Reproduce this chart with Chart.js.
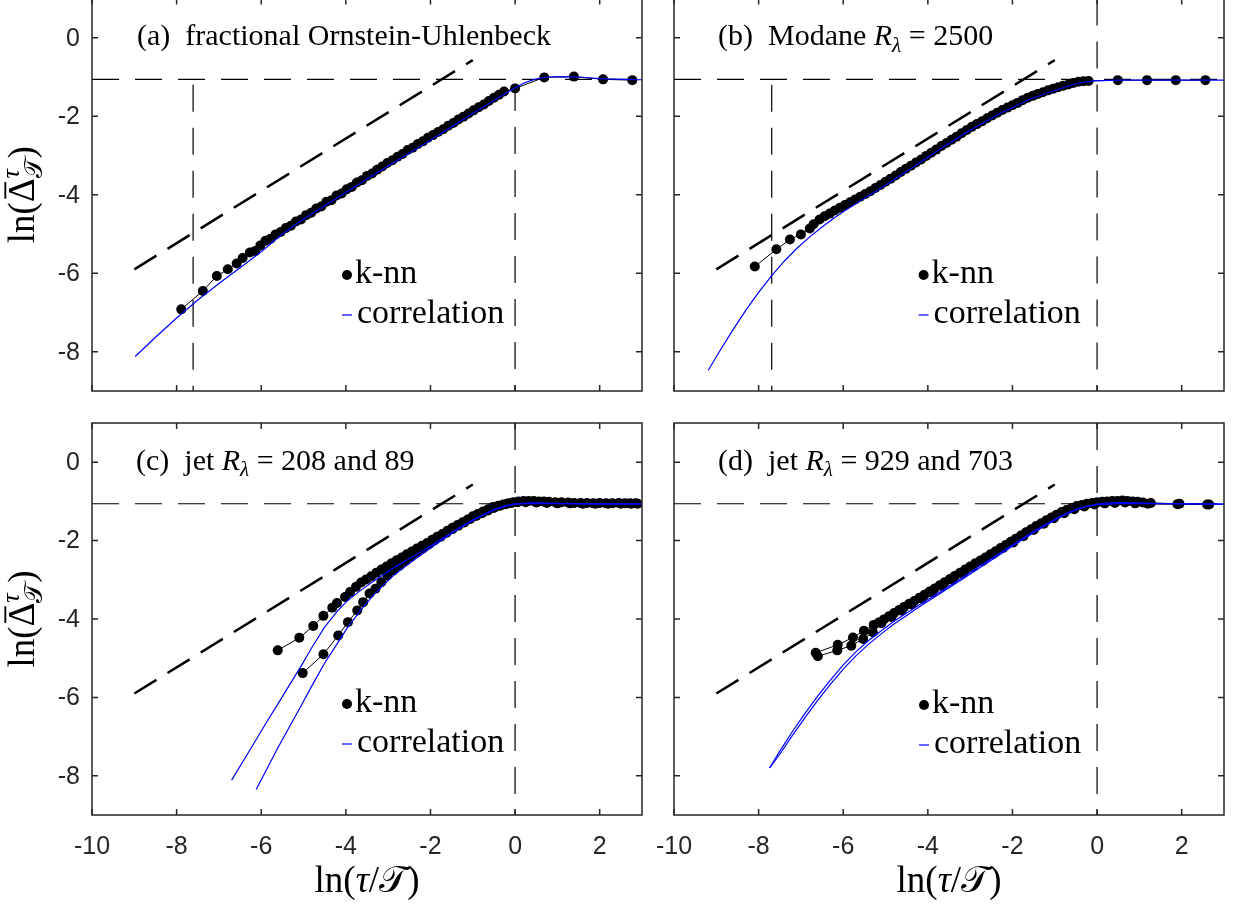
<!DOCTYPE html>
<html>
<head>
<meta charset="utf-8">
<title>k-nn vs correlation estimates</title>
<script src="https://cdn.jsdelivr.net/npm/chart.js@4.4.1/dist/chart.umd.min.js"></script>
<style>
  html, body { margin: 0; padding: 0; background: #fff; }
  #fig { position: relative; width: 1238px; height: 904px; overflow: hidden; background: #fff; }
  #fig canvas { position: absolute; left: 0; top: -20px; }
</style>
</head>
<body>
<div id="fig">
  <canvas id="pa" width="1238" height="924"></canvas>
  <canvas id="pb" width="1238" height="924"></canvas>
  <canvas id="pc" width="1238" height="924"></canvas>
  <canvas id="pd" width="1238" height="924"></canvas>
</div>
<script>
// axes
const X_TICKS = [-10, -8, -6, -4, -2, 0, 2];
const Y_TICKS = [-8, -6, -4, -2, 0];
const X_RANGE = [-10, 3];
const Y_RANGE = [-9, 1];
const LEGEND_LABELS = ['k-nn', 'correlation'];

// reference lines shared by all panels
const slopeLine = [[-9, -5.9], [-1, -0.57]];
const plateau = [[-10, -1.06], [3, -1.06]];
const zeroLine = [[0, 1], [0, -9]];

// (a) fractional Ornstein-Uhlenbeck
const aKnn = [[-7.89,-6.92],[-7.38,-6.45],[-7.05,-6.07],[-6.79,-5.90],[-6.58,-5.75],[-6.44,-5.61],[-6.27,-5.47],[-6.14,-5.43],
  [-6.02,-5.29],[-5.90,-5.17],[-5.78,-5.12],[-5.66,-5.01],[-5.54,-4.95],[-5.42,-4.85],[-5.30,-4.79],[-5.18,-4.68],[-5.06,-4.63],[-4.94,-4.52],
  [-4.82,-4.46],[-4.70,-4.35],[-4.58,-4.30],[-4.46,-4.18],[-4.34,-4.14],[-4.22,-4.02],[-4.10,-3.97],[-3.98,-3.86],[-3.86,-3.80],[-3.74,-3.69],
  [-3.62,-3.63],[-3.50,-3.52],[-3.38,-3.46],[-3.26,-3.36],[-3.14,-3.28],[-3.02,-3.19],[-2.90,-3.12],[-2.78,-3.03],[-2.66,-2.96],[-2.54,-2.86],
  [-2.42,-2.80],[-2.30,-2.71],[-2.18,-2.64],[-2.06,-2.55],[-1.94,-2.48],[-1.82,-2.40],[-1.70,-2.33],[-1.58,-2.24],[-1.46,-2.17],[-1.34,-2.08],
  [-1.22,-2.01],[-1.10,-1.93],[-0.98,-1.85],[-0.86,-1.77],[-0.74,-1.70],[-0.62,-1.61],[-0.50,-1.53],[-0.38,-1.45],[-0.26,-1.37],
  [0,-1.29],[0.69,-1.01],[1.39,-0.99],[2.08,-1.06],[2.77,-1.08]];
const aCorr = [[-8.98,-8.12],[-8.5,-7.63],[-8.0,-7.14],[-7.5,-6.68],[-7.0,-6.26],[-6.5,-5.86],[-6.0,-5.45],[-5.5,-5.0],[-5.0,-4.62],
  [-4.5,-4.28],[-4.0,-3.94],[-3.5,-3.6],[-3.0,-3.27],[-2.5,-2.94],[-2.0,-2.61],[-1.5,-2.27],[-1.0,-1.93],[-0.5,-1.6],[-0.2,-1.4],
  [0,-1.28],[0.2,-1.16],[0.4,-1.08],[0.6,-1.03],[0.8,-1.0],[1.1,-0.99],[1.5,-1.0],[2.0,-1.04],[2.5,-1.06],[3.0,-1.07]];
const aGuides = [[[-7.61,-1.2],[-7.61,-9]], [[0,-1.18],[0,-9]]];

// (b) Modane R_lambda = 2500
const bKnn = [[-8.09,-5.83],[-7.58,-5.39],[-7.26,-5.14],[-7.00,-5.01],[-6.79,-4.86],[-6.70,-4.75],
  [-6.56,-4.63],[-6.44,-4.55],[-6.32,-4.48],[-6.20,-4.40],[-6.08,-4.33],[-5.96,-4.26],[-5.84,-4.19],[-5.72,-4.12],[-5.60,-4.05],[-5.48,-3.98],
  [-5.36,-3.91],[-5.24,-3.83],[-5.12,-3.75],[-5.00,-3.67],[-4.88,-3.59],[-4.76,-3.51],[-4.64,-3.42],[-4.52,-3.34],[-4.40,-3.26],[-4.28,-3.18],
  [-4.16,-3.10],[-4.04,-3.01],[-3.92,-2.93],[-3.80,-2.85],[-3.68,-2.76],[-3.56,-2.68],[-3.44,-2.60],[-3.32,-2.52],[-3.20,-2.43],[-3.08,-2.35],
  [-2.96,-2.27],[-2.84,-2.20],[-2.72,-2.13],[-2.60,-2.05],[-2.48,-1.98],[-2.36,-1.91],[-2.24,-1.84],[-2.12,-1.78],[-2.00,-1.72],[-1.88,-1.66],
  [-1.76,-1.59],[-1.64,-1.53],[-1.52,-1.48],[-1.40,-1.43],[-1.28,-1.39],[-1.16,-1.34],[-1.04,-1.30],[-0.92,-1.26],[-0.80,-1.22],[-0.68,-1.19],
  [-0.56,-1.15],[-0.44,-1.12],[-0.32,-1.11],[-0.20,-1.10],
  [0.49,-1.08],[1.18,-1.08],[1.86,-1.08],[2.56,-1.08]];
const bCorr = [[-9.19,-8.47],[-8.9,-7.95],[-8.6,-7.43],[-8.3,-6.94],[-8.0,-6.49],[-7.69,-6.06],[-7.4,-5.70],[-7.1,-5.37],[-6.8,-5.08],
  [-6.5,-4.82],[-6.2,-4.58],[-5.9,-4.36],[-5.6,-4.16],[-5.3,-3.96],[-4.8,-3.62],[-4.37,-3.31],[-3.7,-2.83],[-3.02,-2.37],[-2.33,-1.95],
  [-1.58,-1.56],[-1.02,-1.35],[-0.47,-1.16],[-0.09,-1.10],[0.5,-1.08],[1.5,-1.08],[3.0,-1.08]];
const bGuides = [[[-7.69,-1.2],[-7.69,-9]], zeroLine];

// (c) jet R_lambda = 208 and 89
const cKnn208 = [[-5.61,-4.80],[-5.10,-4.48],[-4.77,-4.18],[-4.53,-3.92],[-4.32,-3.71],[-4.21,-3.59],[-4.02,-3.44],[-3.90,-3.31],[-3.76,-3.18],
  [-3.64,-3.07],[-3.52,-2.99],[-3.40,-2.91],[-3.28,-2.82],[-3.16,-2.74],[-3.04,-2.66],[-2.92,-2.58],[-2.80,-2.50],[-2.68,-2.43],[-2.56,-2.35],
  [-2.44,-2.28],[-2.32,-2.20],[-2.20,-2.13],[-2.08,-2.06],[-1.96,-1.98],[-1.84,-1.90],[-1.72,-1.83],[-1.60,-1.75],[-1.48,-1.67],[-1.36,-1.60],
  [-1.24,-1.53],[-1.12,-1.46],[-1.00,-1.38],[-0.88,-1.32],[-0.76,-1.26],[-0.64,-1.20],[-0.52,-1.14],[-0.40,-1.11],[-0.28,-1.08],[-0.16,-1.05],
  [-0.04,-1.02],[0.08,-1.00],[0.20,-0.99],[0.32,-0.99],[0.44,-0.99],[0.56,-1.00],[0.68,-1.00],[0.80,-1.01],[0.95,-1.02],[1.10,-1.02],
  [1.25,-1.03],[1.40,-1.04],[1.55,-1.04],[1.70,-1.04],[1.85,-1.05],[2.00,-1.04],[2.15,-1.05],[2.30,-1.05],[2.45,-1.04],[2.60,-1.05],
  [2.72,-1.05],[2.85,-1.05]];
const cKnn89 = [[-5.02,-5.38],[-4.53,-4.90],[-4.18,-4.42],[-3.95,-4.08],[-3.73,-3.78],[-3.59,-3.57],[-3.44,-3.35],[-3.30,-3.23],[-3.16,-3.06],
  [-3.02,-2.89],[-2.88,-2.76],[-2.74,-2.64],[-2.60,-2.52],[-2.46,-2.41],[-2.32,-2.30],[-2.18,-2.20],[-2.04,-2.10],[-1.90,-1.99],[-1.76,-1.90],
  [-1.62,-1.80],[-1.48,-1.71],[-1.34,-1.62],[-1.20,-1.54],[-1.06,-1.45],[-0.92,-1.37],[-0.78,-1.30],[-0.64,-1.23],[-0.50,-1.17],[-0.36,-1.11],
  [-0.22,-1.07],[-0.08,-1.04],[0.06,-1.02],[0.25,-1.02],[0.50,-1.03],[0.75,-1.04],[1.00,-1.05],[1.30,-1.05],[1.60,-1.06],[1.90,-1.06],
  [2.20,-1.06],[2.50,-1.06],[2.75,-1.06],[2.90,-1.06]];
const cCorr208 = [[-6.70,-8.11],[-6.3,-7.40],[-5.9,-6.68],[-5.5,-5.98],[-5.07,-5.22],[-4.8,-4.72],[-4.51,-4.22],[-4.2,-3.8],[-3.95,-3.52],
  [-3.65,-3.27],[-3.39,-3.07],[-3.1,-2.86],[-2.83,-2.67],[-2.4,-2.40],[-1.99,-2.13],[-1.43,-1.75],[-0.96,-1.45],[-0.49,-1.20],[-0.2,-1.10],
  [0,-1.06],[0.4,-1.04],[1.0,-1.05],[2.0,-1.06],[3.0,-1.06]];
const cCorr89 = [[-6.12,-8.35],[-5.6,-7.27],[-5.07,-6.24],[-4.8,-5.70],[-4.51,-5.14],[-4.2,-4.62],[-3.95,-4.20],[-3.65,-3.78],[-3.39,-3.44],
  [-3.1,-3.12],[-2.83,-2.85],[-2.4,-2.50],[-1.99,-2.18],[-1.43,-1.77],[-0.96,-1.47],[-0.49,-1.21],[-0.2,-1.11],[0,-1.07],[0.4,-1.05],
  [1.0,-1.06],[2.0,-1.07],[3.0,-1.07]];

// (d) jet R_lambda = 929 and 703
const dKnn929 = [[-6.65,-4.86],[-6.13,-4.66],[-5.77,-4.47],[-5.51,-4.30],[-5.28,-4.15],
  [-5.16,-4.09],[-5.04,-4.01],[-4.92,-3.93],[-4.80,-3.85],[-4.68,-3.77],[-4.56,-3.69],[-4.44,-3.61],[-4.32,-3.54],[-4.20,-3.46],[-4.08,-3.38],
  [-3.96,-3.30],[-3.84,-3.22],[-3.72,-3.14],[-3.60,-3.06],[-3.48,-2.98],[-3.36,-2.90],[-3.24,-2.82],[-3.12,-2.74],[-3.00,-2.66],[-2.88,-2.58],
  [-2.76,-2.51],[-2.64,-2.43],[-2.52,-2.35],[-2.40,-2.27],[-2.28,-2.19],[-2.16,-2.11],[-2.04,-2.03],[-1.92,-1.95],[-1.80,-1.87],[-1.68,-1.79],
  [-1.56,-1.71],[-1.44,-1.63],[-1.32,-1.56],[-1.20,-1.48],[-1.08,-1.41],[-0.96,-1.34],[-0.84,-1.27],[-0.72,-1.22],[-0.60,-1.17],[-0.48,-1.12],
  [-0.36,-1.09],[-0.24,-1.06],[-0.12,-1.04],[0.00,-1.02],[0.12,-1.01],[0.24,-1.00],[0.36,-0.99],[0.48,-0.99],[0.60,-0.98],[0.72,-0.99],
  [0.84,-1.00],[0.96,-1.01],[1.08,-1.03],[1.27,-1.04],[1.95,-1.06],[2.65,-1.08]];
const dKnn703 = [[-6.60,-4.95],[-6.14,-4.80],[-5.81,-4.68],[-5.53,-4.51],[-5.30,-4.34],
  [-5.10,-4.11],[-4.86,-3.95],[-4.62,-3.79],[-4.38,-3.63],[-4.14,-3.48],[-3.90,-3.32],[-3.66,-3.16],[-3.42,-3.00],[-3.18,-2.84],[-2.94,-2.67],
  [-2.70,-2.51],[-2.46,-2.35],[-2.22,-2.19],[-1.98,-2.05],[-1.74,-1.89],[-1.50,-1.73],[-1.26,-1.57],[-1.02,-1.43],[-0.78,-1.30],[-0.54,-1.20],
  [-0.30,-1.13],[-0.06,-1.08],[0.18,-1.05],[0.42,-1.04],[0.66,-1.03],[0.90,-1.05],[1.20,-1.06],[1.90,-1.07],[2.60,-1.08]];
const dCorr929 = [[-7.74,-7.80],[-7.5,-7.37],[-7.2,-6.87],[-6.9,-6.40],[-6.6,-5.96],[-6.3,-5.55],[-6.0,-5.17],[-5.7,-4.84],[-5.4,-4.55],
  [-5.1,-4.30],[-4.8,-4.06],[-4.5,-3.85],[-4.19,-3.63],[-3.7,-3.30],[-3.26,-3.00],[-2.8,-2.67],[-2.33,-2.34],[-1.87,-2.02],[-1.40,-1.70],
  [-0.84,-1.36],[-0.5,-1.20],[-0.28,-1.13],[0,-1.07],[0.3,-1.04],[0.65,-1.03],[1.3,-1.05],[2.0,-1.06],[3.0,-1.07]];
const dCorr703 = [[-7.74,-7.80],[-7.5,-7.45],[-7.2,-6.97],[-6.9,-6.51],[-6.6,-6.07],[-6.3,-5.66],[-6.0,-5.28],[-5.7,-4.94],[-5.4,-4.64],
  [-5.1,-4.38],[-4.8,-4.13],[-4.5,-3.91],[-4.19,-3.68],[-3.7,-3.34],[-3.26,-3.04],[-2.8,-2.71],[-2.33,-2.38],[-1.87,-2.05],[-1.40,-1.73],
  [-0.84,-1.38],[-0.5,-1.22],[-0.28,-1.14],[0,-1.08],[0.65,-1.05],[1.3,-1.06],[3.0,-1.07]];

// panel titles
const aTitle = [{t: '(a)  fractional Ornstein-Uhlenbeck'}];
const bTitle = [{t: '(b)  Modane '}, {t: 'R', i: 1}, {t: 'λ', i: 1, sub: 1}, {t: ' = 2500'}];
const cTitle = [{t: '(c)  jet '}, {t: 'R', i: 1}, {t: 'λ', i: 1, sub: 1}, {t: ' = 208 and 89'}];
const dTitle = [{t: '(d)  jet '}, {t: 'R', i: 1}, {t: 'λ', i: 1, sub: 1}, {t: ' = 929 and 703'}];
const xTitle = [{t: 'ln('}, {t: 'τ', i: 1}, {t: '/'}, {t: '𝒯'}, {t: ')'}];
const yTitle = [{t: 'ln('}, {t: 'Δ', bar: 1}, {t: 'τ', i: 1, sup: 1, stack: 1}, {t: '𝒯', sub: 1}, {t: ')'}];

const SERIF = '"Liberation Serif", "Times New Roman", serif';
const SANS = '"Liberation Sans", Arial, sans-serif';
const INK = '#262626';
const BLUE = '#0000ff';
const OFFSET = 20; // canvases are shifted up so the top frame can sit just above the page

// draws a run of text pieces (italic, sub/superscript), returns its width
function drawRich(ctx, x, y, parts, size, dry) {
  let cx = x;
  parts.forEach(p => {
    const s = (p.sub || p.sup) ? size * 0.7 : size;
    ctx.font = (p.i ? 'italic ' : '') + s + 'px ' + SERIF;
    const dy = p.sub ? size * 0.22 : p.sup ? -size * 0.4 : 0;
    const w = ctx.measureText(p.t).width;
    if (!dry) {
      ctx.fillText(p.t, cx, y + dy);
      if (p.bar) ctx.fillRect(cx + w * 0.15, y - size * 0.8, w * 0.7, size * 0.05);
    }
    if (!p.stack) cx += w;
  });
  return cx - x;
}

const deco = {
  id: 'deco',
  afterDraw(chart, args, o) {
    const ctx = chart.ctx, a = chart.chartArea;
    const sx = chart.scales.x, sy = chart.scales.y;
    ctx.save();
    // box and inward ticks
    ctx.strokeStyle = INK;
    ctx.lineWidth = 1.5;
    ctx.strokeRect(a.left, a.top, a.right - a.left, a.bottom - a.top);
    ctx.beginPath();
    X_TICKS.forEach(v => {
      const p = sx.getPixelForValue(v);
      ctx.moveTo(p, a.bottom); ctx.lineTo(p, a.bottom - 6);
      ctx.moveTo(p, a.top); ctx.lineTo(p, a.top + 6);
    });
    Y_TICKS.forEach(v => {
      const p = sy.getPixelForValue(v);
      ctx.moveTo(a.left, p); ctx.lineTo(a.left + 6, p);
      ctx.moveTo(a.right, p); ctx.lineTo(a.right - 6, p);
    });
    ctx.stroke();

    // tick labels
    ctx.fillStyle = INK;
    ctx.font = '25px ' + SANS;
    ctx.textBaseline = 'middle';
    if (o.xLabels) {
      ctx.textAlign = 'center';
      X_TICKS.forEach(v => ctx.fillText(String(v), sx.getPixelForValue(v), a.bottom + 32));
    }
    if (o.yLabels) {
      ctx.textAlign = 'right';
      Y_TICKS.forEach(v => ctx.fillText(String(v), a.left - 12, sy.getPixelForValue(v) + 1));
    }

    ctx.fillStyle = '#000';
    ctx.textBaseline = 'alphabetic';
    ctx.textAlign = 'left';
    // panel title
    drawRich(ctx, a.left + o.titleDx, sy.getPixelForValue(0) + 7.5, o.title, 30);

    // legend
    const lx = a.left + o.legend[0], ly = a.top + o.legend[1];
    ctx.beginPath();
    ctx.arc(lx, ly, 5, 0, Math.PI * 2);
    ctx.fill();
    ctx.font = '34px ' + SERIF;
    ctx.fillText(LEGEND_LABELS[0], lx + 8, ly + 8);
    ctx.strokeStyle = BLUE;
    ctx.lineWidth = 1.2;
    ctx.beginPath();
    ctx.moveTo(lx - 5, ly + 40); ctx.lineTo(lx + 5, ly + 40);
    ctx.stroke();
    ctx.fillText(LEGEND_LABELS[1], lx + 10, ly + 48);

    // axis titles
    if (o.xLabels) {
      const w = drawRich(ctx, 0, 0, xTitle, 37, true);
      drawRich(ctx, (a.left + a.right) / 2 - w / 2, a.bottom + 77, xTitle, 37);
    }
    if (o.yLabels) {
      const w = drawRich(ctx, 0, 0, yTitle, 37, true);
      ctx.translate(34, (a.top + a.bottom) / 2);
      ctx.rotate(-Math.PI / 2);
      drawRich(ctx, -w / 2, 0, yTitle, 37);
    }
    ctx.restore();
  }
};

function xy(arr) { return arr.map(p => ({x: p[0], y: p[1]})); }

const COLS = [[92, 642], [674, 1224]];
const ROWS = [[-1.5, 391], [423, 815]];

const panels = [
  {id: 'pa', col: 0, row: 0, knn: [aKnn], corr: [aCorr], guides: aGuides, title: aTitle, titleDx: 45, legend: [255, 276.5]},
  {id: 'pb', col: 1, row: 0, knn: [bKnn], corr: [bCorr], guides: bGuides, title: bTitle, titleDx: 44, legend: [249.6, 276.5]},
  {id: 'pc', col: 0, row: 1, knn: [cKnn208, cKnn89], corr: [cCorr208, cCorr89], guides: [zeroLine], title: cTitle, titleDx: 44, legend: [255, 281]},
  {id: 'pd', col: 1, row: 1, knn: [dKnn929, dKnn703], corr: [dCorr929, dCorr703], guides: [zeroLine], title: dTitle, titleDx: 44, legend: [250, 282]}
];

panels.forEach(pn => {
  const [l, r] = COLS[pn.col];
  const [t, b] = ROWS[pn.row];
  const isLeft = pn.col === 0, isBottom = pn.row === 1;
  const datasets = [];
  pn.corr.forEach(c => datasets.push({data: xy(c), showLine: true, borderColor: BLUE, borderWidth: 1.2, pointRadius: 0, order: 0}));
  pn.knn.forEach(k => datasets.push({data: xy(k), showLine: true, borderColor: '#000', borderWidth: 1,
    pointRadius: 5, pointBackgroundColor: '#000', pointBorderWidth: 0, order: 1}));
  pn.guides.concat([plateau]).forEach(g => datasets.push({data: xy(g), showLine: true, borderColor: '#000',
    borderWidth: 1.2, borderDash: [27, 16], pointRadius: 0, order: 2}));
  datasets.push({data: xy(slopeLine), showLine: true, borderColor: '#000', borderWidth: 2.5, borderDash: [26, 13], pointRadius: 0, order: 2});

  new Chart(document.getElementById(pn.id), {
    type: 'scatter',
    data: {datasets},
    options: {
      responsive: false,
      animation: false,
      devicePixelRatio: 1,
      events: [],
      layout: {padding: {left: l, right: 1238 - r, top: t + OFFSET, bottom: 924 - (b + OFFSET)}},
      scales: {
        x: {
          type: 'linear', min: X_RANGE[0], max: X_RANGE[1],
          afterBuildTicks: s => { s.ticks = X_TICKS.map(v => ({value: v})); },
          afterFit: s => { s.height = 0; },
          grid: {display: false, drawTicks: false},
          border: {display: false},
          ticks: {display: false}
        },
        y: {
          type: 'linear', min: Y_RANGE[0], max: Y_RANGE[1],
          afterBuildTicks: s => { s.ticks = Y_TICKS.map(v => ({value: v})); },
          afterFit: s => { s.width = 0; },
          grid: {display: false, drawTicks: false},
          border: {display: false},
          ticks: {display: false}
        }
      },
      plugins: {
        legend: {display: false},
        tooltip: {enabled: false},
        deco: {title: pn.title, titleDx: pn.titleDx, legend: pn.legend, xLabels: isBottom, yLabels: isLeft}
      }
    },
    plugins: [deco]
  });
});
</script>
</body>
</html>
